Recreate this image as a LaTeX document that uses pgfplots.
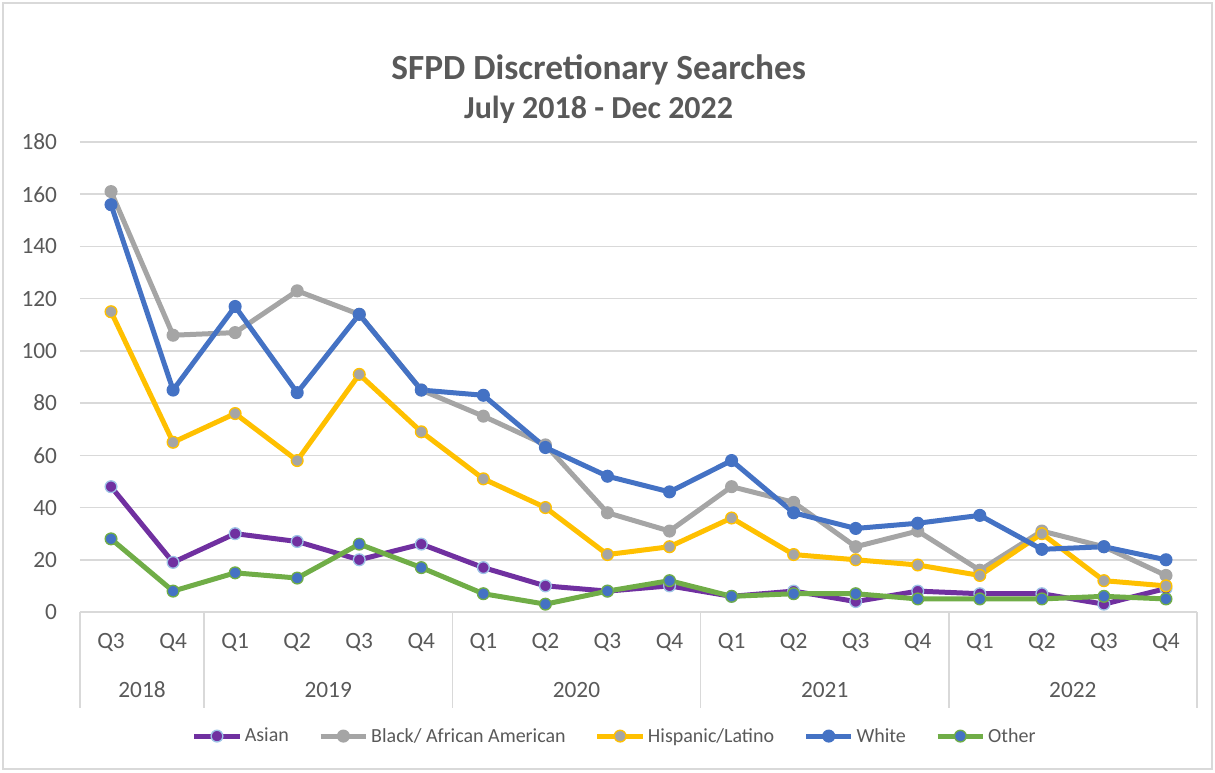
\documentclass[border=0pt]{standalone}
\usepackage{pgfplots}
\pgfplotsset{compat=1.18}
\usepackage{fontspec}
\setmainfont{Carlito}
\definecolor{txtgray}{HTML}{595959}
\definecolor{gridgray}{HTML}{D9D9D9}
\definecolor{cAsian}{HTML}{7030A0}
\definecolor{cAsianEdge}{HTML}{9DC3E6}
\definecolor{cBlack}{HTML}{A5A5A5}
\definecolor{cHisp}{HTML}{FFC000}
\definecolor{cWhite}{HTML}{4472C4}
\definecolor{cOther}{HTML}{70AD47}

\begin{document}
\begin{tikzpicture}
\useasboundingbox (0,0) rectangle (911.25pt,579pt);
\draw[gridgray, line width=1.2pt] (2.25pt,2.25pt) rectangle (909pt,576.75pt);
\node[font=\fontsize{26.5}{30}\selectfont\bfseries, text=txtgray] at (449pt,526.5pt) {SFPD Discretionary Searches};
\node[font=\fontsize{24}{28}\selectfont\bfseries, text=txtgray] at (449pt,496.5pt) {July 2018 - Dec 2022};
\begin{axis}[
  scale only axis, width=837.75pt, height=352.5pt,
  at={(60pt,120pt)}, anchor=south west,
  xmin=-0.5, xmax=17.5, ymin=0, ymax=180,
  ytick={0,20,...,180}, xtick={0,...,17},
  xticklabels={Q3,Q4,Q1,Q2,Q3,Q4,Q1,Q2,Q3,Q4,Q1,Q2,Q3,Q4,Q1,Q2,Q3,Q4},
  axis lines*=left,
  x axis line style={-, draw=gridgray, line width=1.2pt},
  y axis line style={draw=none},
  major tick length=0pt,
  ymajorgrids, grid style={gridgray, line width=1.2pt},
  /pgf/number format/assume math mode=true,
  yticklabel style={font=\fontsize{17.5}{20}\selectfont, text=txtgray, anchor=east, inner sep=0pt, xshift=-17pt},
  xticklabel style={font=\fontsize{17.5}{20}\selectfont, text=txtgray, anchor=center, inner sep=0pt, yshift=-23pt},
  clip=false,
  every axis plot/.append style={line width=3.75pt, mark=*, mark size=4.4pt},
  legend style={at={(0.479,-0.264)}, anchor=center, legend columns=-1, draw=none,
    font=\fontsize{15}{17}\selectfont, text=txtgray,
    /tikz/every even column/.append style={column sep=20pt},
    nodes={inner sep=2pt}},
  legend image code/.code={\draw[mark repeat=2,mark phase=2,#1] plot coordinates {(0pt,0pt) (17pt,0pt) (34pt,0pt)};},
]
% Asian
\addplot[cAsian, mark options={fill=cAsian, draw=cAsianEdge, line width=1pt}] coordinates {
(0,48)(1,19)(2,30)(3,27)(4,20)(5,26)(6,17)(7,10)(8,8)(9,10)(10,6)(11,8)(12,4)(13,8)(14,7)(15,7)(16,3)(17,9)};
% Black / African American
\addplot[cBlack, mark options={fill=cBlack, draw=cBlack, line width=1pt}] coordinates {
(0,161)(1,106)(2,107)(3,123)(4,114)(5,85)(6,75)(7,64)(8,38)(9,31)(10,48)(11,42)(12,25)(13,31)(14,16)(15,31)(16,25)(17,14)};
% Hispanic / Latino
\addplot[cHisp, mark options={fill=cBlack, draw=cHisp, line width=1pt}] coordinates {
(0,115)(1,65)(2,76)(3,58)(4,91)(5,69)(6,51)(7,40)(8,22)(9,25)(10,36)(11,22)(12,20)(13,18)(14,14)(15,30)(16,12)(17,10)};
% White
\addplot[cWhite, mark options={fill=cWhite, draw=cWhite, line width=1pt}] coordinates {
(0,156)(1,85)(2,117)(3,84)(4,114)(5,85)(6,83)(7,63)(8,52)(9,46)(10,58)(11,38)(12,32)(13,34)(14,37)(15,24)(16,25)(17,20)};
% Other
\addplot[cOther, mark options={fill=cWhite, draw=cOther, line width=1pt}] coordinates {
(0,28)(1,8)(2,15)(3,13)(4,26)(5,17)(6,7)(7,3)(8,8)(9,12)(10,6)(11,7)(12,7)(13,5)(14,5)(15,5)(16,6)(17,5)};
\legend{Asian,Black/ African American,Hispanic/Latino,White,Other}
% category table lines and year labels
\draw[gridgray, line width=1.2pt] (axis cs:-0.5,0) -- ++(0pt,-72pt);
\draw[gridgray, line width=1.2pt] (axis cs:1.5,0) -- ++(0pt,-72pt);
\draw[gridgray, line width=1.2pt] (axis cs:5.5,0) -- ++(0pt,-72pt);
\draw[gridgray, line width=1.2pt] (axis cs:9.5,0) -- ++(0pt,-72pt);
\draw[gridgray, line width=1.2pt] (axis cs:13.5,0) -- ++(0pt,-72pt);
\draw[gridgray, line width=1.2pt] (axis cs:17.5,0) -- ++(0pt,-72pt);
\node[font=\fontsize{17.5}{20}\selectfont, text=txtgray] at ([yshift=-58.5pt]axis cs:0.5,0) {2018};
\node[font=\fontsize{17.5}{20}\selectfont, text=txtgray] at ([yshift=-58.5pt]axis cs:3.5,0) {2019};
\node[font=\fontsize{17.5}{20}\selectfont, text=txtgray] at ([yshift=-58.5pt]axis cs:7.5,0) {2020};
\node[font=\fontsize{17.5}{20}\selectfont, text=txtgray] at ([yshift=-58.5pt]axis cs:11.5,0) {2021};
\node[font=\fontsize{17.5}{20}\selectfont, text=txtgray] at ([yshift=-58.5pt]axis cs:15.5,0) {2022};
\end{axis}
\end{tikzpicture}
\end{document}
